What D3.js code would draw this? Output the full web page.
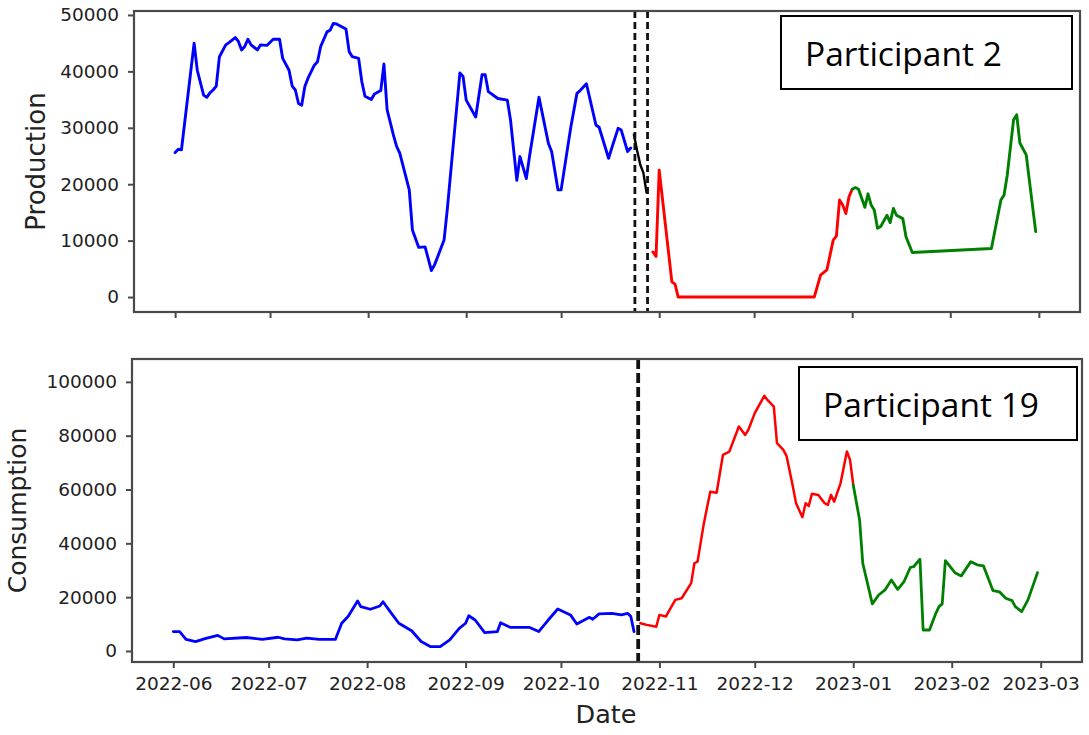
<!DOCTYPE html>
<html>
<head>
<meta charset="utf-8">
<script src="https://cdn.jsdelivr.net/npm/d3@7"></script>
<style>
  html, body { margin: 0; padding: 0; background: #fff; }
  svg { display: block; }
  .tick text { font-family: "DejaVu Sans", sans-serif; fill: #222; }
</style>
</head>
<body>
<svg id="chart" width="1089" height="735"></svg>
<script>
// ---- Participant 2: production ----
const prodHistoryDates = ["2022-06-01","2022-06-02","2022-06-03","2022-06-07","2022-06-08","2022-06-10","2022-06-11","2022-06-12","2022-06-13","2022-06-14","2022-06-15","2022-06-17","2022-06-18","2022-06-20","2022-06-21","2022-06-22","2022-06-23","2022-06-24","2022-06-25","2022-06-27","2022-06-28","2022-06-30","2022-07-02","2022-07-04","2022-07-05","2022-07-07","2022-07-08","2022-07-09","2022-07-10","2022-07-11","2022-07-12","2022-07-13","2022-07-15","2022-07-16","2022-07-17","2022-07-19","2022-07-20","2022-07-21","2022-07-22","2022-07-25","2022-07-26","2022-07-27","2022-07-29","2022-07-30","2022-07-31","2022-08-02","2022-08-03","2022-08-05","2022-08-06","2022-08-07","2022-08-09","2022-08-10","2022-08-11","2022-08-14","2022-08-15","2022-08-17","2022-08-19","2022-08-21","2022-08-22","2022-08-25","2022-08-26","2022-08-30","2022-08-31","2022-09-01","2022-09-04","2022-09-06","2022-09-07","2022-09-08","2022-09-11","2022-09-14","2022-09-15","2022-09-17","2022-09-18","2022-09-20","2022-09-21","2022-09-24","2022-09-27","2022-09-28","2022-09-30","2022-10-01","2022-10-04","2022-10-06","2022-10-07","2022-10-09","2022-10-12","2022-10-13","2022-10-16","2022-10-17","2022-10-19","2022-10-20","2022-10-22","2022-10-23"];
const prodHistoryValues = [25600,26200,26100,45000,40200,35800,35400,36200,36700,37400,42600,44700,45100,46000,45300,43800,44400,45700,44700,43800,44700,44600,45700,45700,42300,40200,37400,36700,34300,34000,37300,38800,41100,41700,44400,47000,47300,48500,48400,47500,43500,42600,42300,38200,35600,35000,36000,36600,41300,33200,28700,26700,25500,19000,11900,8800,8900,4700,5700,10100,15400,39700,39100,34900,31900,39400,39400,36400,35200,34900,31400,20700,24900,21000,24900,35400,27200,25800,19000,19000,29900,36100,36600,37800,30500,30100,24600,26400,29900,29600,25800,26400];

const prodGapDates = ["2022-10-24","2022-10-25","2022-10-26","2022-10-27","2022-10-28"];
const prodGapValues = [28800,26000,23500,22000,18500];

const prodForecastDates = ["2022-10-30","2022-10-31","2022-11-01","2022-11-05","2022-11-06","2022-11-07","2022-12-20","2022-12-22","2022-12-24","2022-12-26","2022-12-27","2022-12-28","2022-12-29","2022-12-30","2022-12-31","2023-01-01"];
const prodForecastValues = [8000,7200,22500,2700,2300,0,0,3900,4800,10100,10800,17200,16300,14800,17800,19100];

const prodLateDates = ["2023-01-01","2023-01-02","2023-01-03","2023-01-05","2023-01-06","2023-01-07","2023-01-08","2023-01-09","2023-01-10","2023-01-12","2023-01-13","2023-01-14","2023-01-15","2023-01-17","2023-01-18","2023-01-20","2023-02-14","2023-02-17","2023-02-18","2023-02-19","2023-02-21","2023-02-22","2023-02-23","2023-02-25","2023-02-28"];
const prodLateValues = [19100,19400,19100,15900,18300,16300,15400,12200,12500,14500,13200,15700,14500,13900,10700,7900,8600,17200,18100,21600,31400,32300,27300,25200,11600];

const prodMarkerDates = ["2022-10-24","2022-10-28"];

// ---- Participant 19: consumption ----
const consHistoryDates = ["2022-06-01","2022-06-03","2022-06-05","2022-06-08","2022-06-11","2022-06-15","2022-06-17","2022-06-24","2022-06-29","2022-07-04","2022-07-06","2022-07-10","2022-07-13","2022-07-17","2022-07-22","2022-07-24","2022-07-26","2022-07-29","2022-07-30","2022-08-02","2022-08-05","2022-08-06","2022-08-09","2022-08-11","2022-08-15","2022-08-18","2022-08-21","2022-08-24","2022-08-27","2022-08-30","2022-09-01","2022-09-02","2022-09-04","2022-09-07","2022-09-11","2022-09-12","2022-09-15","2022-09-21","2022-09-24","2022-09-27","2022-09-30","2022-10-04","2022-10-06","2022-10-10","2022-10-11","2022-10-13","2022-10-17","2022-10-20","2022-10-22","2022-10-23","2022-10-24"];
const consHistoryValues = [7200,7200,4300,3500,4600,5800,4500,5000,4300,5100,4500,4100,4800,4300,4300,10300,12800,18600,16500,15500,16700,18300,13400,10300,7500,3500,1600,1600,4100,8400,10300,13100,11500,6800,7200,10500,8800,8800,7200,11500,15600,13400,10000,12500,11800,13800,14000,13400,14000,12800,7200];

const consForecastDates = ["2022-10-26","2022-10-28","2022-10-31","2022-11-01","2022-11-03","2022-11-06","2022-11-08","2022-11-11","2022-11-12","2022-11-13","2022-11-15","2022-11-17","2022-11-19","2022-11-21","2022-11-23","2022-11-24","2022-11-26","2022-11-28","2022-11-29","2022-12-01","2022-12-04","2022-12-05","2022-12-07","2022-12-08","2022-12-10","2022-12-11","2022-12-13","2022-12-14","2022-12-16","2022-12-17","2022-12-18","2022-12-19","2022-12-21","2022-12-23","2022-12-24","2022-12-25","2022-12-26","2022-12-28","2022-12-30","2022-12-31","2023-01-01"];
const consForecastValues = [10300,9700,9000,13400,12800,19000,19600,25200,32600,33200,47500,59200,58800,72900,74100,77200,83400,80300,82200,88400,94800,93300,90800,77200,74700,72500,61100,54900,49700,54900,53900,58400,58000,54900,54300,58000,55500,62300,74100,71000,61700];

const consLateDates = ["2023-01-01","2023-01-03","2023-01-04","2023-01-07","2023-01-09","2023-01-11","2023-01-13","2023-01-15","2023-01-17","2023-01-19","2023-01-20","2023-01-22","2023-01-23","2023-01-25","2023-01-27","2023-01-28","2023-01-29","2023-01-30","2023-02-02","2023-02-04","2023-02-07","2023-02-09","2023-02-11","2023-02-14","2023-02-16","2023-02-18","2023-02-20","2023-02-21","2023-02-23","2023-02-25","2023-02-28"];
const consLateValues = [61700,48700,32600,17500,20800,22700,26400,22900,25800,31100,31300,34100,7800,7800,14000,16500,17500,33600,29100,27900,33200,32000,31600,22400,22000,19600,18700,16500,14600,19000,29100];

const consMarkerDates = ["2022-10-25"];

// ---- axes ----
const monthTicks = ["2022-06-01","2022-07-01","2022-08-01","2022-09-01","2022-10-01","2022-11-01","2022-12-01","2023-01-01","2023-02-01","2023-03-01"];
const prodTicks = [0,10000,20000,30000,40000,50000];
const consTicks = [0,20000,40000,60000,80000,100000];
const dateExtent = ["2022-05-19","2023-03-14"];

const parse = d3.utcParse("%Y-%m-%d");
const fmt = d3.utcFormat("%Y-%m");
const zip = (ds, vs) => ds.map((d, i) => ({ date: parse(d), value: vs[i] }));

const svg = d3.select("#chart");

function panel(cfg) {
  const { left, right, top, bottom, yDomain, yTicks, showXLabels } = cfg;
  const x = d3.scaleUtc().domain(dateExtent.map(parse)).range([left, right]);
  const y = d3.scaleLinear().domain(yDomain).range([bottom, top]);
  const g = svg.append("g");

  const line = d3.line().x(d => x(d.date)).y(d => y(d.value));
  cfg.series.forEach(s => {
    g.append("path")
      .datum(zip(s.dates, s.values))
      .attr("fill", "none")
      .attr("stroke", s.color)
      .attr("stroke-width", s.width)
      .attr("stroke-linejoin", "round")
      .attr("stroke-linecap", "round")
      .attr("d", line);
  });

  // vertical dashed markers spanning the axes
  cfg.markers.forEach(d => {
    const mx = x(parse(d)) + cfg.markerShift;
    g.append("line")
      .attr("x1", mx).attr("x2", mx)
      .attr("y1", top).attr("y2", bottom)
      .attr("stroke", "#111")
      .attr("stroke-width", cfg.markerWidth)
      .attr("stroke-dasharray", cfg.markerDash);
  });

  // frame
  g.append("rect")
    .attr("x", left).attr("y", top)
    .attr("width", right - left).attr("height", bottom - top)
    .attr("fill", "none").attr("stroke", "#4a4a4a").attr("stroke-width", 2.2);

  const xAxis = d3.axisBottom(x)
    .tickValues(monthTicks.map(parse))
    .tickSize(6).tickPadding(9)
    .tickFormat(showXLabels ? fmt : () => "");
  const xg = g.append("g").attr("transform", `translate(0,${bottom})`).call(xAxis);
  xg.select(".domain").remove();
  xg.selectAll(".tick line").attr("stroke", "#4a4a4a").attr("stroke-width", 2);
  xg.selectAll(".tick text").style("font-size", "18.5px");

  const yAxis = d3.axisLeft(y).tickValues(yTicks).tickSize(6).tickPadding(9).tickFormat(d3.format("d"));
  const yg = g.append("g").attr("transform", `translate(${left},0)`).call(yAxis);
  yg.select(".domain").remove();
  yg.selectAll(".tick line").attr("stroke", "#4a4a4a").attr("stroke-width", 2);
  yg.selectAll(".tick text").style("font-size", "18.5px");

  // y label
  g.append("text")
    .attr("transform", `translate(${cfg.yLabelX},${(top + bottom) / 2}) rotate(-90)`)
    .attr("text-anchor", "middle")
    .style("font-family", "DejaVu Sans, sans-serif")
    .style("font-size", cfg.yLabelSize + "px")
    .style("fill", "#222")
    .text(cfg.yLabel);

  // participant box
  const b = cfg.box;
  g.append("rect")
    .attr("x", b.x).attr("y", b.y).attr("width", b.w).attr("height", b.h)
    .attr("fill", "#fff").attr("stroke", "#000").attr("stroke-width", 2);
  g.append("text")
    .attr("x", b.tx).attr("y", b.ty)
    .style("font-family", "Open Sans, sans-serif")
    .style("font-size", "33.5px")
    .style("fill", "#000")
    .text(b.label);
}

panel({
  left: 134, right: 1080, top: 11, bottom: 312,
  yDomain: [-2650, 50700], yTicks: prodTicks, showXLabels: false,
  yLabel: "Production", yLabelX: 45, yLabelSize: 26,
  markers: prodMarkerDates, markerWidth: 2.8, markerDash: "7,4", markerShift: 1,
  series: [
    { dates: prodHistoryDates, values: prodHistoryValues, color: "#0000ff", width: 2.9 },
    { dates: prodGapDates, values: prodGapValues, color: "#000000", width: 2.4 },
    { dates: prodForecastDates, values: prodForecastValues, color: "#ff0000", width: 2.9 },
    { dates: prodLateDates, values: prodLateValues, color: "#008000", width: 2.9 }
  ],
  box: { x: 781, y: 16, w: 291, h: 73, tx: 805, ty: 66, label: "Participant 2" }
});

panel({
  left: 132, right: 1082, top: 359, bottom: 662,
  yDomain: [-4100, 108500], yTicks: consTicks, showXLabels: true,
  yLabel: "Consumption", yLabelX: 26, yLabelSize: 25,
  markers: consMarkerDates, markerWidth: 3.8, markerDash: "10,4", markerShift: 1,
  series: [
    { dates: consHistoryDates, values: consHistoryValues, color: "#0000ff", width: 2.8 },
    { dates: consForecastDates, values: consForecastValues, color: "#ff0000", width: 2.5 },
    { dates: consLateDates, values: consLateValues, color: "#008000", width: 2.8 }
  ],
  box: { x: 799, y: 367, w: 278, h: 73, tx: 823, ty: 417, label: "Participant 19" }
});

svg.append("text")
  .attr("x", 606).attr("y", 723)
  .attr("text-anchor", "middle")
  .style("font-family", "DejaVu Sans, sans-serif")
  .style("font-size", "25.5px")
  .style("fill", "#222")
  .text("Date");
</script>
</body>
</html>
